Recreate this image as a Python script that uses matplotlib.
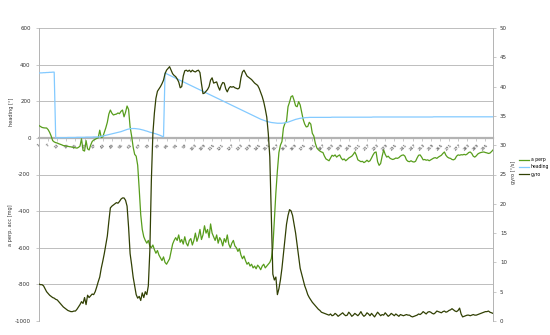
import numpy as np
import matplotlib
matplotlib.use("Agg")
import matplotlib.pyplot as plt

a_perp = [
    67, 62, 57, 55, 54, 54, 45, 30, 10, -15,
    -22, -26, -28, -32, -35, -38, -42, -43, -45, -46,
    -48, -49, -51, -53, -54, -56, -52, -45, -5, -68,
    -72, -15, -60, -66, -40, -20, -12, -8, -3, 0,
    42, 2, 5, 30, 55, 85, 130, 152, 135, 125,
    128, 130, 136, 132, 145, 152, 115, 140, 174, 155,
    60, 10, -50, -90, -100, -150, -280, -420, -500, -540,
    -560, -575, -560, -590, -600, -585, -610, -630, -615, -640,
    -655, -670, -650, -680, -690, -675, -660, -620, -580, -560,
    -545, -560, -530, -570, -555, -580, -540, -575, -590, -560,
    -550, -585, -560, -520, -565, -540, -500, -555, -530, -480,
    -520, -500, -545, -470, -520, -540, -560, -530, -575, -545,
    -560, -590, -550, -570, -530, -580, -600, -575, -560, -590,
    -600, -620, -605, -640, -660, -645, -670, -690, -680, -700,
    -690, -710, -700, -715, -695, -705, -720, -700, -690, -710,
    -700, -690, -680, -660, -600, -450, -300, -180, -80, -40,
    -20, 55, 80, 90, 170, 195, 225, 230, 205, 175,
    170, 198, 180, 140, 100, 75, 60, 62, 85, 75,
    25, 10, -30, -55, -65, -72, -77, -80, -100, -115,
    -120, -125, -110, -95, -100, -93, -105, -98, -93, -110,
    -120, -115, -125, -118, -110, -105, -100, -90, -77, -95,
    -120, -125, -130, -128, -135, -130, -122, -130, -125, -110,
    -93, -80, -77, -130, -150, -140, -100, -66, -90, -105,
    -100, -110, -115, -118, -115, -110, -112, -108, -100, -95,
    -93, -100, -120, -128, -130, -125, -130, -132, -128, -110,
    -95, -93, -105, -120, -118, -122, -120, -125, -120, -115,
    -110, -108, -112, -105, -100, -95, -85, -77, -95, -105,
    -110, -112, -118, -120, -115, -100, -93, -95, -92, -93,
    -90, -93, -88, -80, -77, -85, -100, -105, -98, -88,
    -83, -80, -78, -77, -80, -82, -85, -83, -75, -66,
]

heading = [
    354, 355, 355, 356, 356, 357, 357, 358, 358, 359,
    359, 0, 0, 0, 1, 1, 1, 1, 1, 2,
    2, 2, 2, 2, 2, 3, 3, 3, 3, 3,
    3, 4, 4, 4, 4, 4, 5, 5, 5, 5,
    6, 8, 10, 12, 14, 16, 18, 20, 22, 24,
    26, 28, 30, 32, 34, 37, 40, 43, 46, 48,
    50, 51, 51, 51, 50, 49, 48, 46, 44, 42,
    39, 37, 34, 31, 29, 27, 24, 22, 19, 16,
    13, 9, 5, 355, 350, 346, 342, 338, 334, 330,
    326, 322, 318, 314, 310, 306, 302, 298, 294, 290,
    286, 282, 278, 274, 270, 266, 262, 258, 254, 250,
    246, 242, 238, 234, 230, 226, 222, 218, 214, 210,
    206, 202, 198, 194, 190, 186, 182, 178, 174, 170,
    166, 162, 158, 154, 150, 146, 142, 138, 134, 130,
    126, 122, 118, 114, 110, 106, 102, 99, 96, 93,
    90, 88, 86, 84, 83, 82, 81, 80, 80, 80,
    80, 81, 82, 84, 86, 89, 92, 95, 98, 101,
    103, 105, 107, 108, 109, 110, 111, 111, 112, 112,
    112, 112, 112, 112, 112, 112, 112, 112, 112, 112,
    112, 112, 112, 113, 113, 113, 113, 113, 113, 113,
    113, 113, 113, 113, 113, 113, 113, 113, 113, 113,
    113, 113, 113, 113, 113, 113, 113, 113, 113, 113,
    114, 114, 114, 114, 114, 114, 114, 114, 114, 114,
    114, 114, 114, 114, 114, 114, 114, 114, 114, 114,
    114, 114, 114, 114, 114, 114, 114, 114, 114, 114,
    114, 114, 114, 114, 114, 114, 114, 114, 114, 114,
    115, 115, 115, 115, 115, 115, 115, 115, 115, 115,
    115, 115, 115, 115, 115, 115, 115, 115, 115, 115,
    115, 115, 115, 115, 115, 115, 115, 115, 115, 115,
    115, 115, 115, 115, 115, 115, 115, 115, 115, 115,
]

gyro = [
    6.3, 6.2, 6.2, 6.0, 5.5, 5.0, 4.7, 4.4, 4.2, 4.0,
    3.9, 3.7, 3.6, 3.3, 3.0, 2.7, 2.4, 2.2, 2.0, 1.8,
    1.7, 1.6, 1.6, 1.7, 1.7, 2.0, 2.4, 2.8, 3.3, 3.0,
    4.0, 2.8, 4.4, 4.0, 4.3, 4.6, 4.5, 5.0, 5.8, 6.7,
    7.5, 9.0, 10.2, 11.5, 13.0, 14.5, 17.0, 19.3, 19.6, 19.8,
    20.0, 20.2, 20.1, 20.4, 20.8, 21.0, 21.0, 20.6, 19.6, 16.0,
    11.5, 9.6, 7.5, 6.0, 4.5, 3.9, 4.2, 3.5, 4.8, 4.0,
    5.0, 4.5, 6.0, 12.0, 24.0, 32.0, 35.5, 38.0, 39.2, 39.6,
    40.0, 40.5, 41.1, 42.2, 42.8, 43.1, 43.4, 42.8, 42.2, 41.9,
    41.7, 41.3, 40.8, 39.8, 40.0, 41.8, 42.7, 42.8, 42.6, 42.8,
    42.5, 42.8, 42.6, 42.5, 42.7, 42.8, 42.4, 40.5, 38.8, 38.9,
    39.2, 39.5, 40.0, 41.1, 41.5, 40.6, 40.7, 40.8, 40.0, 39.4,
    40.2, 40.7, 40.6, 39.6, 39.1, 39.7, 40.0, 39.9, 40.0, 39.8,
    39.7, 39.6, 39.8, 41.5, 42.5, 42.8, 42.3, 41.8, 41.6, 41.4,
    41.2, 40.9, 40.6, 40.4, 40.2, 39.7, 39.0, 38.3, 37.4, 36.2,
    34.8, 32.0, 28.0, 18.0, 8.0, 7.0, 7.5, 4.5, 5.5, 7.0,
    9.0, 11.5, 14.0, 16.5, 18.0, 19.0, 18.8, 18.0, 16.5, 15.0,
    13.0, 11.0, 9.0, 8.0, 7.0, 6.0, 5.3, 4.5, 4.0, 3.6,
    3.2, 2.9, 2.6, 2.3, 2.0, 1.8, 1.5, 1.4, 1.3, 1.2,
    1.1, 1.0, 1.2, 0.9, 1.0, 1.3, 1.1, 0.8, 1.0, 1.2,
    1.4, 1.1, 0.9, 1.0, 1.5, 1.2, 0.8, 1.0, 1.3, 1.1,
    0.9, 1.2, 1.6, 1.1, 0.8, 1.0, 1.4, 1.2, 0.9, 1.3,
    1.0, 0.7, 1.1, 1.5, 1.2, 0.9, 1.1, 1.0, 1.4, 1.1,
    0.8, 1.0, 1.3, 1.1, 0.9, 1.2, 1.0, 0.8, 1.1, 1.0,
    0.9, 1.0, 1.1, 1.0, 1.0, 0.8, 0.7, 0.8, 0.9, 1.0,
    1.2, 1.1, 1.3, 1.6, 1.4, 1.2, 1.5, 1.6, 1.5, 1.3,
    1.2, 1.4, 1.7, 1.6, 1.5, 1.4, 1.6, 1.7, 1.5, 1.6,
    1.8, 1.9, 2.1, 1.9, 1.7, 1.6, 1.8, 2.2, 1.2, 0.7,
    0.8, 0.9, 1.0, 1.0, 0.9, 1.0, 1.1, 1.0, 1.0, 1.1,
    1.2, 1.3, 1.4, 1.5, 1.6, 1.6, 1.7, 1.5, 1.4, 1.3,
]

categories = list(range(1, len(a_perp) + 1))
tick_step = 6
left_ticks = [-1000, -800, -600, -400, -200, 0, 200, 400, 600]
right_ticks = [0, 5, 10, 15, 20, 25, 30, 35, 40, 45, 50]

C_GREEN = "#579d1c"
C_BLUE = "#83caff"
C_OLIVE = "#314004"
C_GRID = "#b3b3b3"
C_TEXT = "#333333"

fig = plt.figure(figsize=(5.5, 3.35), dpi=100)
ax = fig.add_axes([39 / 550, 1 - 321 / 335, (493 - 39) / 550, (321 - 28) / 335])
ax2 = ax.twinx()

l1, = ax.plot(categories, a_perp, color=C_GREEN, lw=0.9, label="a perp", zorder=3)
l2, = ax.plot(categories, heading, color=C_BLUE, lw=0.9, label="heading", zorder=3)
l3, = ax2.plot(categories, gyro, color=C_OLIVE, lw=0.9, label="gyro", zorder=3)

ax.set_xlim(categories[0], categories[-1])
ax.set_ylim(-1000, 600)
ax2.set_ylim(0, 50)

ax.set_yticks(left_ticks)
ax.set_yticklabels([str(t) for t in left_ticks])
ax2.set_yticks(right_ticks)
ax2.set_yticklabels([str(t) for t in right_ticks])

ax.grid(axis="y", color=C_GRID, lw=0.6, zorder=0)
ax.set_axisbelow(True)

xt = categories[::tick_step]
ax.set_xticks(xt)
ax.set_xticklabels([str(c) for c in xt])
ax.tick_params(axis="x", length=2, width=0.5, color=C_GRID, pad=1.5,
               labelsize=3.2, labelcolor=C_TEXT, labelrotation=45)
for lbl in ax.get_xticklabels():
    lbl.set_ha("right")
    lbl.set_va("top")
    lbl.set_rotation_mode("anchor")

for a in (ax, ax2):
    a.spines["top"].set_visible(False)
ax.spines["bottom"].set_position(("data", 0))
ax.spines["bottom"].set_color(C_GRID)
ax.spines["bottom"].set_linewidth(1.6)
ax2.spines["bottom"].set_visible(False)
ax.spines["left"].set_color(C_GRID)
ax.spines["left"].set_linewidth(0.7)
ax2.spines["left"].set_visible(False)
ax2.spines["right"].set_color(C_GRID)
ax2.spines["right"].set_linewidth(0.7)
ax.spines["right"].set_visible(False)

ax.tick_params(axis="y", labelsize=4, labelcolor=C_TEXT, length=2, width=0.5,
               pad=4, color=C_GRID)
ax2.tick_params(axis="y", labelsize=4, labelcolor=C_TEXT, length=2, width=0.5,
                pad=3, color=C_GRID)

fig.text(11 / 550, 1 - 112 / 335, "heading [°]", rotation=90, fontsize=3.6,
         color=C_TEXT, ha="center", va="center")
fig.text(11 / 550, 1 - 225 / 335, "a perp. acc [mg]", rotation=90, fontsize=3.6,
         color=C_TEXT, ha="center", va="center")
fig.text(514 / 550, 1 - 172 / 335, "gyro [°/s]", rotation=90, fontsize=3.6,
         color=C_TEXT, ha="center", va="center")

fig.legend(handles=[l1, l2, l3], loc="center left",
           bbox_to_anchor=(519 / 550, 1 - 167 / 335), frameon=False,
           fontsize=3.3, handlelength=2.2, handletextpad=0.4,
           labelspacing=0.45, borderaxespad=0, borderpad=0)

fig.savefig("out.png", dpi=100)
